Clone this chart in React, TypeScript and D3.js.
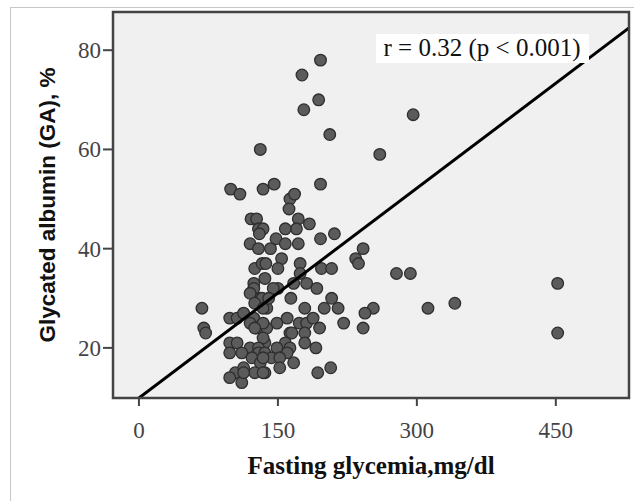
import React from "react";
import * as d3 from "d3";

const glycemia: number[] = [
  196, 176, 194, 178, 206, 296, 131, 260, 196, 146, 134, 99, 109, 163, 168, 162,
  121, 127, 129, 134, 130, 172, 170, 172,
  120, 129, 148, 158, 142, 196, 211,
  125, 133, 137, 154, 174, 197, 208, 234, 237, 242,
  136, 124, 124, 150, 167, 174, 181, 192, 278, 293,
  131, 120, 133, 208, 125, 138, 179, 200, 215, 253, 312, 341, 68, 244, 134,
  70, 72, 98, 106, 113, 124, 120, 127, 138, 149, 163, 173, 181, 195, 221, 242, 134, 165, 179, 125,
  98, 106, 136, 158, 134, 179, 149, 163, 191, 120, 129,
  98, 111, 129, 136, 160, 122, 131, 143, 152, 134,
  104, 113, 98, 111, 125, 136, 152, 167, 134, 193, 207, 113,
  452, 452,
  184, 158, 150, 164, 145, 188, 160, 140,
];
const albumin: number[] = [
  78, 75, 70, 68, 63, 67, 60, 59, 53, 53, 52, 52, 51, 50, 51, 48,
  46, 46, 44, 44, 43, 46, 44, 41,
  41, 40, 42, 41, 40, 42, 43,
  36, 37, 37, 38, 37, 36, 36, 38, 37, 40,
  34, 33, 32, 32, 33, 35, 33, 32, 35, 35,
  30, 31, 30, 30, 29, 28, 28, 28, 28, 28, 28, 29, 28, 27, 28,
  24, 23, 26, 26, 27, 26, 25, 24, 24, 25, 23, 25, 25, 24, 25, 24, 25, 23, 23, 24,
  21, 21, 21, 21, 22, 21, 20, 20, 20, 20, 20,
  19, 19, 19, 19, 19, 18, 17, 18, 18, 18,
  15, 16, 14, 13, 15, 15, 16, 17, 15, 15, 16, 15,
  33, 23,
  45, 44, 36, 30, 32, 26, 26, 30,
];

const xTicks = [0, 150, 300, 450];
const yTicks = [20, 40, 60, 80];
const xDomain = [-28, 529];
const yDomain = [9.9, 87.7];
const fitIntercept = 9.9;
const fitSlope = 0.141;
const fitX = [0, 529];

const xTitle = "Fasting glycemia,mg/dl";
const yTitle = "Glycated albumin (GA), %";
const annotation = "r = 0.32 (p < 0.001)";

export default function App() {
  const W = 634, H = 501;
  const left = 113, right = 629, top = 12, bottom = 398;
  const x = d3.scaleLinear().domain(xDomain).range([left, right]);
  const y = d3.scaleLinear().domain(yDomain).range([bottom, top]);
  const line = d3
    .line<number>()
    .x((d) => x(d))
    .y((d) => y(fitIntercept + fitSlope * d));
  const pts = glycemia.map((g, i) => ({ g, a: albumin[i] }));
  return (
    <svg
      width={W}
      height={H}
      style={{ position: "absolute", left: 0, top: 0, background: "#fff" }}
    >
      <defs>
        <clipPath id="plotclip">
          <rect x={left} y={top} width={right - left} height={bottom - top} />
        </clipPath>
      </defs>
      <rect x={10.5} y={7.5} width={W} height={H} fill="#fff" stroke="#c8c8c8" strokeWidth={1} />
      <rect x={left} y={top} width={right - left} height={bottom - top} fill="#f0f0f0" />
      <g clipPath="url(#plotclip)">
        {pts.map((p, i) => (
          <circle
            key={i}
            cx={x(p.g)}
            cy={y(p.a)}
            r={5.8}
            fill="#5b5b5b"
            stroke="#2e2e2e"
            strokeWidth={1.3}
          />
        ))}
        <path d={line(fitX) || ""} fill="none" stroke="#000" strokeWidth={3} />
      </g>
      <rect x={left} y={top} width={right - left} height={bottom - top} fill="none" stroke="#444" strokeWidth={2.5} />
      {yTicks.map((t) => (
        <g key={"y" + t}>
          <line x1={left - 10} x2={left} y1={y(t)} y2={y(t)} stroke="#444" strokeWidth={2} />
          <text
            x={left - 12}
            y={y(t)}
            dy="0.35em"
            textAnchor="end"
            fontFamily="Liberation Serif, Times New Roman, serif"
            fontSize={23}
            fill="#444"
          >
            {t}
          </text>
        </g>
      ))}
      {xTicks.map((t) => (
        <g key={"x" + t}>
          <line x1={x(t)} x2={x(t)} y1={bottom} y2={bottom + 8} stroke="#444" strokeWidth={2} />
          <text
            x={x(t)}
            y={438}
            textAnchor="middle"
            fontFamily="Liberation Serif, Times New Roman, serif"
            fontSize={23}
            fill="#444"
          >
            {t}
          </text>
        </g>
      ))}
      <text
        x={(left + right) / 2}
        y={474}
        textAnchor="middle"
        fontFamily="Liberation Serif, Times New Roman, serif"
        fontWeight="bold"
        fontSize={25}
        fill="#111"
      >
        {xTitle}
      </text>
      <text
        transform={`translate(55, ${(top + bottom) / 2}) rotate(-90)`}
        textAnchor="middle"
        fontFamily="Liberation Sans, Arial, sans-serif"
        fontWeight="bold"
        fontSize={22.5}
        fill="#111"
      >
        {yTitle}
      </text>
      <rect x={376} y={34} width={213} height={29} fill="#fff" />
      <text
        x={482}
        y={56}
        textAnchor="middle"
        fontFamily="Liberation Serif, Times New Roman, serif"
        fontSize={25}
        fill="#111"
      >
        {annotation}
      </text>
    </svg>
  );
}
